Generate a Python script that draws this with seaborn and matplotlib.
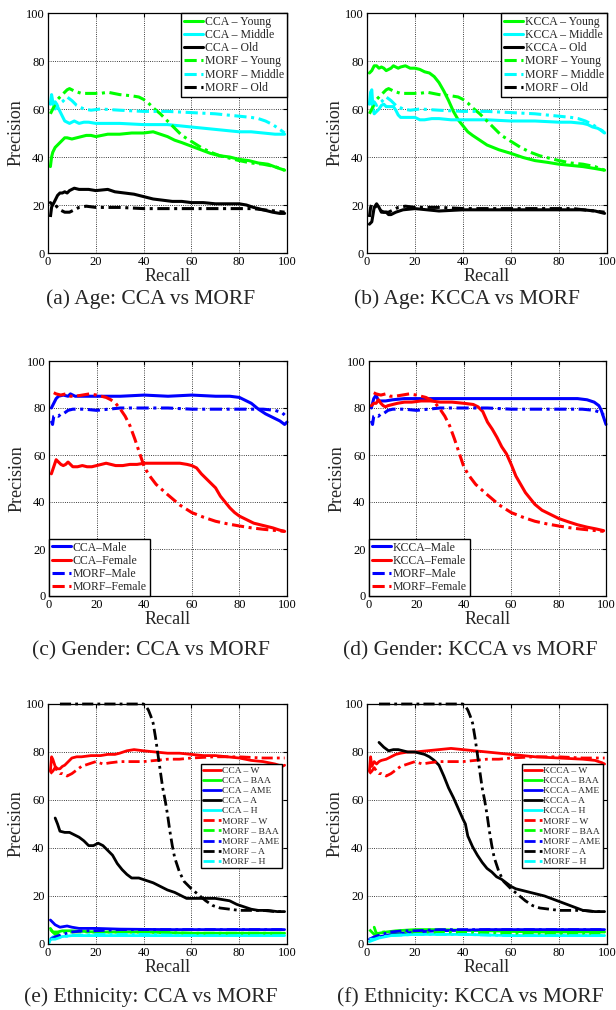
import matplotlib
matplotlib.use("Agg")
import matplotlib.pyplot as plt
import seaborn as sns

# ---- values: recall (x) and precision (y), both in % ----

# Age, MORF (shared by panels a and b)
morf_young_x = [1, 2, 3, 4, 6, 8, 9, 11, 14, 18, 22, 25, 30, 35, 38, 40, 42, 44, 47, 50, 53, 56, 60, 64, 68, 72, 76, 80, 85, 90, 95, 99]
morf_young_y = [58, 60, 62, 64, 66, 68, 68.5, 67.5, 66.5, 66.5, 66.5, 67, 66, 65.5, 65, 64, 62.5, 60.5, 58, 55, 52, 49, 46.5, 44, 42, 40.5, 39.5, 38.5, 37.5, 37, 36, 34.5]
morf_middle_x = [1, 2, 3, 4, 6, 8, 10, 12, 15, 18, 22, 30, 40, 50, 60, 70, 80, 85, 88, 91, 94, 97, 99]
morf_middle_y = [63, 62, 63, 61.5, 63, 65, 63.5, 61.5, 60, 59.5, 60, 59.5, 59, 59, 58.5, 58, 57, 56.5, 56, 55, 53.5, 51.5, 50]
morf_old_x = [1, 1.5, 2, 3, 4, 5, 7, 9, 11, 13, 16, 20, 30, 40, 50, 60, 70, 80, 86, 90, 95, 99]
morf_old_y = [15, 19, 20.5, 20, 19, 18, 17, 17, 18, 19, 19.5, 19, 19, 18.5, 18.5, 18.5, 18.5, 18.5, 18.5, 18, 17.5, 17]

# Age, CCA
cca_young_x = [1, 1.5, 2, 3, 4, 5, 6, 7, 8, 10, 12, 14, 16, 18, 20, 25, 30, 35, 40, 44, 47, 50, 53, 56, 60, 64, 68, 72, 76, 80, 84, 88, 92, 96, 99]
cca_young_y = [36, 40, 42, 44, 45, 46, 47, 48, 48, 47.5, 48, 48.5, 49, 49, 48.5, 49.5, 49.5, 50, 50, 50.5, 49.5, 48.5, 47, 46, 44.5, 43, 41.5, 40.5, 40, 39, 38.5, 37.5, 37, 35.5, 34.5]
cca_middle_x = [1, 1.5, 2, 3, 4, 5, 6, 7, 8, 9, 11, 13, 15, 17, 20, 25, 30, 40, 50, 55, 60, 65, 70, 75, 80, 85, 90, 95, 99]
cca_middle_y = [62, 66, 63, 60, 61, 59, 57, 55, 54.5, 54, 55, 54, 54.5, 54.5, 54, 54, 54, 53.5, 53.5, 53, 52.5, 52, 51.5, 51, 50.5, 50.5, 50, 49.5, 49.5]
cca_old_x = [1, 2, 3, 4, 5, 6, 7, 8, 9, 11, 13, 15, 17, 20, 25, 28, 32, 36, 40, 44, 48, 52, 56, 60, 65, 70, 75, 80, 83, 86, 90, 94, 97, 99]
cca_old_y = [21, 20, 22, 24, 25, 25, 25.5, 25, 26, 27, 26.5, 26.5, 26.5, 26, 26.5, 25.5, 25, 24.5, 23.5, 22.5, 22, 21.5, 21.5, 21, 21, 20.5, 20.5, 20.5, 20, 19, 18, 17, 16.5, 16.5]

# Age, KCCA
kcca_young_x = [1, 2, 3, 4, 5, 6, 7, 8, 9, 10, 11, 12, 13, 14, 16, 18, 20, 22, 24, 26, 28, 30, 32, 34, 36, 38, 40, 42, 44, 47, 50, 55, 60, 65, 70, 75, 80, 85, 90, 95, 99]
kcca_young_y = [75, 76, 78, 78, 77, 77.5, 77, 76, 76.5, 77, 78, 77.5, 77, 77.5, 78, 77, 77, 76.5, 75.5, 75, 73.5, 71, 67.5, 63.5, 59, 55.5, 53, 50.5, 49, 47, 45, 43, 41.5, 39.8, 38.5, 37.8, 37, 36.5, 36, 35.2, 34.5]
kcca_middle_x = [1, 1.5, 2, 2.5, 3, 4, 5, 6, 7, 8, 10, 11, 12, 13, 14, 16, 20, 22, 24, 27, 30, 35, 40, 50, 60, 70, 80, 85, 90, 92, 94, 96, 98, 99]
kcca_middle_y = [62, 67, 68, 60, 58, 59, 60, 61.5, 62, 61, 61, 61, 59.5, 57.5, 56.5, 56.5, 56.5, 55.5, 55.5, 56, 56, 55.5, 55.5, 55.5, 55, 55, 54.5, 54.5, 54, 53.5, 52.5, 52, 51, 50]
kcca_old_x = [1, 2, 3, 4, 5, 6, 8, 9, 10, 12, 15, 20, 25, 30, 40, 50, 60, 70, 80, 90, 95, 99]
kcca_old_y = [12, 13, 19, 20.5, 19, 17, 17, 16, 16, 17, 18, 18.5, 18, 17.5, 18, 18, 18, 18, 18, 18, 17.5, 16.5]

# Gender, MORF (shared by panels c and d)
morf_male_x = [1, 1.5, 2, 3, 4, 5, 6, 8, 10, 15, 20, 25, 30, 40, 50, 60, 70, 80, 90, 95, 98, 99]
morf_male_y = [74.5, 73, 76.5, 77, 76.5, 77.5, 77.5, 79, 79.5, 79.5, 79, 79.5, 80, 80, 80, 79.5, 79.5, 79.5, 79.5, 79, 78, 77]
morf_female_x = [2, 3, 5, 7, 9, 11, 14, 17, 20, 22, 24, 26, 28, 30, 32, 34, 36, 38, 40, 42, 45, 50, 55, 60, 65, 70, 75, 80, 85, 90, 95, 99]
morf_female_y = [86.5, 86, 85.5, 86, 85, 85, 85.5, 86, 85.5, 85, 84.5, 83.5, 82, 79.5, 76.5, 72.5, 67, 61, 55, 51.5, 47.5, 43, 38.7, 35.5, 33.5, 31.8, 30.7, 29.8, 29, 28.4, 27.9, 27.5]

# Gender, CCA
cca_male_x = [1, 2, 3, 4, 6, 8, 9, 11, 14, 20, 30, 40, 50, 60, 70, 76, 80, 82, 85, 88, 91, 94, 97, 99, 100]
cca_male_y = [80, 82, 84, 85, 85.5, 85, 86, 85, 85, 85, 85, 85.5, 85, 85.5, 85, 85, 84.5, 83.5, 82, 79.5, 77.5, 76, 74.5, 73, 74]
cca_female_x = [1, 2, 3, 4, 5, 6, 7, 8, 9, 10, 12, 14, 16, 18, 20, 22, 24, 26, 28, 31, 34, 37, 40, 45, 50, 55, 58, 60, 62, 64, 66, 68, 70, 72, 74, 76, 78, 80, 83, 86, 90, 94, 97, 99]
cca_female_y = [52, 55, 58, 57, 56, 55.5, 56, 57, 56, 55, 55, 55.5, 55, 55, 55.5, 56, 56.5, 56, 55.5, 55.5, 56, 56, 56.5, 56.5, 56.5, 56.5, 56, 55.5, 54.5, 52, 50, 48, 46, 42.5, 40, 37.5, 35.5, 34, 32.5, 31, 30, 29, 28, 27.5]

# Gender, KCCA
kcca_male_x = [1, 1.5, 2, 3, 4, 5, 7, 10, 15, 20, 30, 40, 50, 60, 70, 80, 88, 92, 95, 97, 98, 99, 100]
kcca_male_y = [80, 82, 84, 85.5, 83, 83, 83, 83.5, 84, 84, 84, 84, 84, 84, 84, 84, 84, 83.5, 82.5, 81, 79, 76, 73]
kcca_female_x = [1, 2, 3, 4, 5, 6, 7, 8, 10, 12, 15, 18, 22, 26, 30, 35, 40, 44, 46, 48, 50, 52, 54, 56, 58, 60, 62, 64, 66, 68, 70, 73, 76, 80, 84, 88, 92, 96, 99]
kcca_female_y = [81, 82, 82, 83.5, 82, 81, 80.5, 81, 81.5, 82, 82.5, 82.5, 83, 83, 82.5, 82.5, 82, 81.5, 80.5, 78.5, 74, 71, 67.5, 63.5, 60.5, 56, 51, 47.5, 44, 41.5, 39, 36.5, 35, 33, 31.6, 30.3, 29.3, 28.5, 27.8]

# Ethnicity, MORF (shared by panels e and f)
morf_w_x = [1, 2, 3, 4, 5, 6, 8, 9, 10, 12, 14, 17, 20, 23, 26, 30, 35, 40, 45, 50, 55, 60, 70, 80, 90, 99]
morf_w_y = [71, 72, 73.5, 72, 71, 71, 70, 70.5, 71, 72.5, 74, 75, 76, 75, 75.5, 76, 76, 76, 76.5, 77, 77, 77.5, 78, 78, 77.5, 77.5]
morf_baa_x = [1, 3, 6, 10, 20, 40, 60, 80, 99]
morf_baa_y = [6, 4, 5, 5, 5, 5, 4.5, 4.5, 4.5]
morf_ame_x = [1, 3, 6, 10, 15, 20, 30, 50, 70, 99]
morf_ame_y = [2, 3, 4, 5, 5.5, 5.5, 6, 6, 6, 6]
morf_a_x = [5, 10, 20, 30, 38, 40, 41, 42, 43, 44, 45, 46, 47, 48, 49, 50, 51, 52, 53, 55, 57, 60, 63, 66, 69, 72, 76, 80, 85, 90, 95, 99]
morf_a_y = [100, 100, 100, 100, 100, 100, 99, 97.5, 95, 92, 86, 79, 72, 65, 60, 54, 47, 41, 36, 30, 26, 23, 20.5, 18, 16, 15, 14.5, 14, 14, 14, 13.5, 13.5]
morf_h_x = [1, 3, 6, 10, 20, 40, 60, 80, 99]
morf_h_y = [2, 2, 3, 3.5, 4, 4, 3.5, 3.5, 3.5]

# Ethnicity, CCA
cca_w_x = [1, 1.5, 2, 3, 4, 5, 6, 7, 8, 10, 12, 14, 18, 22, 25, 28, 30, 33, 36, 40, 45, 50, 55, 60, 65, 70, 75, 80, 85, 90, 95, 98, 99]
cca_w_y = [72, 78, 77, 74, 73, 73, 74, 74.5, 75.5, 77.5, 78, 78, 78.5, 78.5, 79, 79, 79.5, 80.5, 81, 80.5, 80, 79.5, 79.5, 79, 78.5, 78.5, 78, 77.5, 76.5, 76, 75, 74, 74.5]
cca_baa_x = [1, 2, 4, 6, 10, 20, 40, 60, 80, 99]
cca_baa_y = [6.5, 5, 5, 5.5, 5.5, 5, 5, 4.5, 4.5, 4.5]
cca_ame_x = [1, 2, 3, 5, 8, 10, 13, 20, 30, 50, 70, 99]
cca_ame_y = [10, 9, 8, 7, 7.5, 7, 6.5, 6.5, 6.2, 6, 6, 6]
cca_a_x = [3, 4, 5, 7, 9, 11, 13, 15, 17, 19, 21, 23, 25, 27, 29, 31, 33, 35, 38, 41, 44, 47, 50, 53, 56, 58, 60, 63, 66, 70, 73, 76, 79, 82, 85, 88, 92, 96, 99]
cca_a_y = [52.5, 50, 47, 46.5, 46.5, 45.5, 44.5, 43, 41, 41, 42, 41, 39, 37, 33.5, 31, 29, 27.5, 27.5, 26.5, 25.5, 24, 22.5, 21.5, 20, 19, 19, 19, 19, 19, 18.5, 18, 16.5, 15.5, 14.5, 14, 14, 13.5, 13.5]
cca_h_x = [0.5, 1, 2, 5, 10, 20, 40, 60, 80, 99]
cca_h_y = [0.5, 2, 3, 3, 3.5, 3.5, 3.5, 3.5, 3.5, 3.5]

# Ethnicity, KCCA
kcca_w_x = [1, 1.5, 2, 3, 4, 5, 6, 8, 10, 12, 14, 17, 20, 25, 30, 35, 40, 45, 50, 55, 60, 65, 70, 80, 90, 95, 98, 99]
kcca_w_y = [72, 78, 74, 76, 75, 76, 76.5, 77, 78, 79, 79.5, 80, 80, 80.5, 81, 81.5, 81, 80.5, 80, 79.5, 79, 78.5, 78, 77.5, 77, 76.5, 75.5, 75]
kcca_baa_x = [3, 4, 5, 8, 12, 20, 30, 50, 70, 99]
kcca_baa_y = [7, 4, 4.5, 5, 5.5, 6, 6, 5.5, 5, 5]
kcca_ame_x = [1, 5, 10, 20, 30, 50, 70, 99]
kcca_ame_y = [2, 3, 4, 5, 5.5, 6, 6, 6]
kcca_a_x = [5, 6, 7, 9, 11, 13, 15, 17, 20, 22, 24, 26, 28, 30, 32, 34, 36, 38, 40, 41, 42, 44, 46, 48, 50, 52, 54, 56, 58, 60, 62, 64, 66, 70, 74, 78, 82, 86, 90, 95, 99]
kcca_a_y = [84, 83, 82, 80.5, 81, 81, 80.5, 80, 80, 79.5, 79, 78, 76.5, 74.5, 70, 65, 61, 56.5, 52, 50, 45, 40.5, 37, 34, 31.5, 30, 28, 27, 25.5, 24, 23, 22.5, 22, 21, 20, 18.5, 17, 15.5, 14, 13.5, 13.5]
kcca_h_x = [1, 5, 10, 20, 40, 60, 99]
kcca_h_y = [1, 2.5, 3.5, 4, 4, 3.5, 3.5]

captions = ["(a) Age: CCA vs MORF", "(b) Age: KCCA vs MORF",
            "(c) Gender: CCA vs MORF", "(d) Gender: KCCA vs MORF",
            "(e) Ethnicity: CCA vs MORF", "(f) Ethnicity: KCCA vs MORF"]

# ---- styling ----
G, C, K, R, B = "#00ff00", "#00ffff", "black", "#ff0000", "#0000ff"
SOLID = "-"
DASHDOT = (0, (4, 1.5, 1, 1.5))

sns.set_style("white")
plt.rcParams["font.family"] = ["Liberation Serif", "DejaVu Serif"]

panels = [
    [("CCA – Young", cca_young_x, cca_young_y, G, SOLID),
     ("CCA – Middle", cca_middle_x, cca_middle_y, C, SOLID),
     ("CCA – Old", cca_old_x, cca_old_y, K, SOLID),
     ("MORF – Young", morf_young_x, morf_young_y, G, DASHDOT),
     ("MORF – Middle", morf_middle_x, morf_middle_y, C, DASHDOT),
     ("MORF – Old", morf_old_x, morf_old_y, K, DASHDOT)],
    [("KCCA – Young", kcca_young_x, kcca_young_y, G, SOLID),
     ("KCCA – Middle", kcca_middle_x, kcca_middle_y, C, SOLID),
     ("KCCA – Old", kcca_old_x, kcca_old_y, K, SOLID),
     ("MORF – Young", morf_young_x, morf_young_y, G, DASHDOT),
     ("MORF – Middle", morf_middle_x, morf_middle_y, C, DASHDOT),
     ("MORF – Old", morf_old_x, morf_old_y, K, DASHDOT)],
    [("CCA–Male", cca_male_x, cca_male_y, B, SOLID),
     ("CCA–Female", cca_female_x, cca_female_y, R, SOLID),
     ("MORF–Male", morf_male_x, morf_male_y, B, DASHDOT),
     ("MORF–Female", morf_female_x, morf_female_y, R, DASHDOT)],
    [("KCCA–Male", kcca_male_x, kcca_male_y, B, SOLID),
     ("KCCA–Female", kcca_female_x, kcca_female_y, R, SOLID),
     ("MORF–Male", morf_male_x, morf_male_y, B, DASHDOT),
     ("MORF–Female", morf_female_x, morf_female_y, R, DASHDOT)],
    [("CCA – W", cca_w_x, cca_w_y, R, SOLID),
     ("CCA – BAA", cca_baa_x, cca_baa_y, G, SOLID),
     ("CCA – AME", cca_ame_x, cca_ame_y, B, SOLID),
     ("CCA – A", cca_a_x, cca_a_y, K, SOLID),
     ("CCA – H", cca_h_x, cca_h_y, C, SOLID),
     ("MORF – W", morf_w_x, morf_w_y, R, DASHDOT),
     ("MORF – BAA", morf_baa_x, morf_baa_y, G, DASHDOT),
     ("MORF – AME", morf_ame_x, morf_ame_y, B, DASHDOT),
     ("MORF – A", morf_a_x, morf_a_y, K, DASHDOT),
     ("MORF – H", morf_h_x, morf_h_y, C, DASHDOT)],
    [("KCCA – W", kcca_w_x, kcca_w_y, R, SOLID),
     ("KCCA – BAA", kcca_baa_x, kcca_baa_y, G, SOLID),
     ("KCCA – AME", kcca_ame_x, kcca_ame_y, B, SOLID),
     ("KCCA – A", kcca_a_x, kcca_a_y, K, SOLID),
     ("KCCA – H", kcca_h_x, kcca_h_y, C, SOLID),
     ("MORF – W", morf_w_x, morf_w_y, R, DASHDOT),
     ("MORF – BAA", morf_baa_x, morf_baa_y, G, DASHDOT),
     ("MORF – AME", morf_ame_x, morf_ame_y, B, DASHDOT),
     ("MORF – A", morf_a_x, morf_a_y, K, DASHDOT),
     ("MORF – H", morf_h_x, morf_h_y, C, DASHDOT)],
]

W, H = 616, 1010
# axes boxes in pixels: left, right, top, bottom
boxes = [(48, 287, 13, 253), (367, 607, 13, 253),
         (49, 287, 361, 596), (369, 606, 361, 596),
         (48, 287, 704, 944), (367, 607, 704, 944)]
caption_pos = [(151, 299), (467, 299), (151, 651), (470, 651), (151, 997), (470, 997)]
legend_opts = [
    dict(loc="upper right", bbox_to_anchor=(1, 1), fontsize=8.5, handlelength=1.6, labelspacing=0.1),
    dict(loc="upper right", bbox_to_anchor=(1, 1), fontsize=8.5, handlelength=1.6, labelspacing=0.1),
    dict(loc="lower left", bbox_to_anchor=(0, 0), fontsize=8.5, handlelength=1.6, labelspacing=0.1),
    dict(loc="lower left", bbox_to_anchor=(0, 0), fontsize=8.5, handlelength=1.6, labelspacing=0.1),
    dict(loc="upper right", bbox_to_anchor=(0.979, 0.75), fontsize=6.8, handlelength=1.9, labelspacing=0.16),
    dict(loc="upper right", bbox_to_anchor=(0.983, 0.75), fontsize=6.8, handlelength=1.9, labelspacing=0.16),
]

fig = plt.figure(figsize=(W / 100, H / 100), dpi=100)

for series, (l, r, t, b), (cx, cy), lopt, cap in zip(panels, boxes, caption_pos, legend_opts, captions):
    ax = fig.add_axes([l / W, 1 - b / H, (r - l) / W, (b - t) / H])
    lw = 2.2 if len(series) < 10 else 2.0
    for label, xs, ys, color, ls in series:
        sns.lineplot(x=xs, y=ys, ax=ax, color=color, linestyle=ls, linewidth=lw,
                     label=label, estimator=None, sort=False)
    for line in ax.get_lines():
        line.set_dash_capstyle("butt")
        line.set_clip_on(False)

    ax.set_xlim(0, 100)
    ax.set_ylim(0, 100)
    ax.set_xticks(range(0, 101, 20))
    ax.set_yticks(range(0, 101, 20))
    ax.grid(True, linestyle=":", color="black", linewidth=0.6)
    ax.tick_params(direction="in", length=3, width=0.8, labelsize=9, pad=2.5,
                   top=True, right=True, colors="black")
    for s in ax.spines.values():
        s.set_color("black")
        s.set_linewidth(0.9)
    ax.set_xlabel("Recall", fontsize=13, labelpad=0)
    ax.set_ylabel("Precision", fontsize=13, labelpad=1)

    leg = ax.legend(borderaxespad=0, borderpad=0.25, handletextpad=0.15,
                    fancybox=False, framealpha=1, edgecolor="black", **lopt)
    leg.get_frame().set_linewidth(1.0)

    fig.text(cx / W, 1 - cy / H, cap, ha="center", va="center", fontsize=15.5)

fig.savefig("out.png", dpi=100)
